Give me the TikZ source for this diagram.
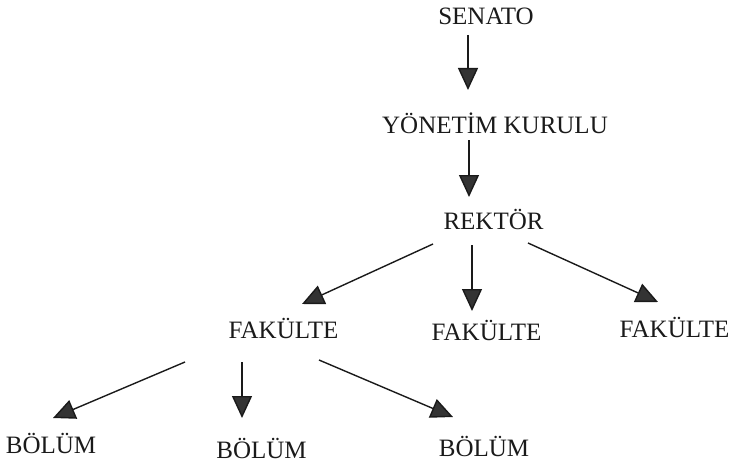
\documentclass[tikz,border=0pt]{standalone}
\usepackage{fontspec}
\setmainfont{Liberation Serif}
\usetikzlibrary{arrows.meta,calc}
\definecolor{ink}{HTML}{1A1A1A}
\definecolor{headfill}{HTML}{333333}
\begin{document}
\begin{tikzpicture}[x=1pt,y=-1pt,
  lbl/.style={anchor=base,inner sep=0pt,font=\fontsize{25}{30}\selectfont,text=ink},
  arr/.style={draw=ink,line width=1.4pt,-{Triangle[length=22pt,width=20pt,fill=headfill]}}]
\useasboundingbox (0,0) rectangle (733,468);
% nodes
\node[lbl] (senato) at (486,25) {SENATO};
\node[lbl] (yonetim) at (495,133) {YÖNETİM KURULU};
\node[lbl] (rektor) at (493.5,229) {REKTÖR};
\node[lbl] (fak1) at (283.5,338) {FAKÜLTE};
\node[lbl] (fak2) at (486.5,340) {FAKÜLTE};
\node[lbl] (fak3) at (674.5,337) {FAKÜLTE};
\node[lbl] (bol1) at (51,453) {BÖLÜM};
\node[lbl] (bol2) at (261.5,458) {BÖLÜM};
\node[lbl] (bol3) at (484,456) {BÖLÜM};
% connectors
\draw[arr] ($(senato.base)+(-18,10)$) -- ($(yonetim.base)+(-27,-43)$);
\draw[arr] ($(yonetim.base)+(-26,7)$) -- ($(rektor.base)+(-24.5,-32)$);
\draw[arr] ($(rektor.base)+(-60.5,15)$) -- ($(fak1.base)+(18.5,-34)$);
\draw[arr] ($(rektor.base)+(-21.5,16)$) -- ($(fak2.base)+(-14.5,-29)$);
\draw[arr] ($(rektor.base)+(34.5,14)$) -- ($(fak3.base)+(-16.5,-35)$);
\draw[arr] ($(fak1.base)+(-98.5,24)$) -- ($(bol1.base)+(2,-35)$);
\draw[arr] ($(fak1.base)+(-41.5,24)$) -- ($(bol2.base)+(-19.5,-40)$);
\draw[arr] ($(fak1.base)+(35.5,22)$) -- ($(bol3.base)+(-31,-39)$);
\end{tikzpicture}
\end{document}
